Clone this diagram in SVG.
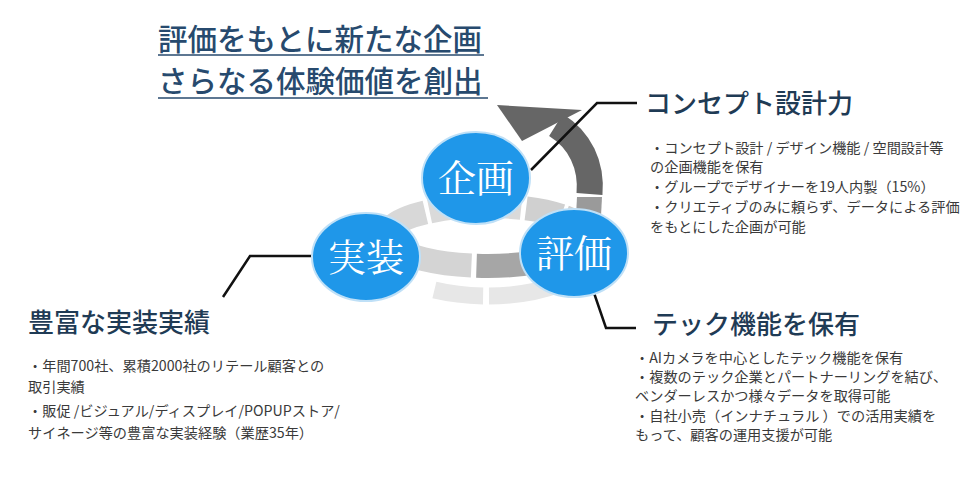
<svg xmlns="http://www.w3.org/2000/svg" width="967" height="501" viewBox="0 0 967 501">
<style>
.title{font-family:"Noto Sans CJK JP","Noto Sans CJK SC",sans-serif;font-size:29.5px;font-weight:500;fill:#274a6e}
.uline{stroke:#274a6e;stroke-width:1.6;fill:none}
.head{font-family:"Noto Sans CJK JP","Noto Sans CJK SC",sans-serif;font-size:26px;font-weight:500;fill:#1f3b55}
.body{font-family:"Noto Sans CJK JP","Noto Sans CJK SC",sans-serif;font-size:14.2px;fill:#3a3a3a}
.node{fill:#1f97e9;stroke:#bfe0f7;stroke-width:2}
.nlabel{font-family:"Noto Serif CJK JP","Noto Serif CJK SC","Noto Sans CJK JP",serif;font-size:38px;fill:#ffffff;text-anchor:middle}
.seg{fill:none;stroke-width:24;stroke-linecap:butt}
.low{fill:none;stroke:#e7e7e7;stroke-width:17;stroke-linecap:butt}
.conn{fill:none;stroke:#111111;stroke-width:2.5;stroke-linejoin:miter}
</style>
<rect width="967" height="501" fill="#ffffff"/>

<g id="title">
<text class="title" x="158" y="50">評価をもとに新たな企画</text>
<line class="uline" x1="158" y1="55" x2="484" y2="55"/>
<text class="title" x="158" y="92">さらなる体験価値を創出</text>
<line class="uline" x1="158" y1="98" x2="488" y2="98"/>
</g>

<g id="cycle">
<path class="low" d="M434.4,290.1 A112,50 0 0 0 483.1,296"/>
<path class="low" d="M489,296 A112,50 0 0 0 559,284.3"/>
<path class="seg" stroke="#a6a6a6" d="M581,246.3 A100,30 0 0 1 476.5,265.8"/>
<path class="seg" stroke="#d4d4d4" d="M471.4,265.6 A100,30 0 0 1 393,246.3"/>
<path class="seg" stroke="#d8d8d8" d="M391.4,244.8 A100,30 0 0 1 425.4,212.4"/>
<path class="seg" stroke="#dadada" d="M429.6,211.4 A100,30 0 0 1 521.2,207.8"/>
<path class="seg" stroke="#d0d0d0" d="M526.1,208.4 A100,30 0 0 1 561.3,215.9"/>
<path class="seg" stroke="#cfcfcf" d="M564.7,217.1 A100,30 0 0 1 582.6,244.8"/>
<path d="M576,216 L601,216 L602,197 L577,197 Z" fill="#9a9a9a"/>
<path d="M589.5,194 C592,165 580,140 556,125" fill="none" stroke="#666666" stroke-width="26"/>
<polygon points="497,105 582,110 522,141" fill="#666666"/>
</g>

<g id="connectors">
<polyline class="conn" points="531,170 597,103 637,103"/>
<polyline class="conn" points="223,297 250,256 313,256"/>
<polyline class="conn" points="593,290 606,328 636,328"/>
</g>

<g id="node-kikaku">
<ellipse class="node" cx="476" cy="178" rx="54" ry="46"/>
<text class="nlabel" x="476" y="192">企画</text>
</g>
<g id="node-jisso">
<ellipse class="node" cx="366" cy="257" rx="54" ry="44"/>
<text class="nlabel" x="366" y="271">実装</text>
</g>
<g id="node-hyoka">
<ellipse class="node" cx="574" cy="253" rx="54" ry="44"/>
<text class="nlabel" x="574" y="267">評価</text>
</g>

<g id="concept">
<text class="head" x="645" y="113">コンセプト設計力</text>
<text class="body" x="650" y="153">・コンセプト設計 / デザイン機能 / 空間設計等</text>
<text class="body" x="650" y="172">の企画機能を保有</text>
<text class="body" x="650" y="192">・グループでデザイナーを19人内製（15%）</text>
<text class="body" x="650" y="212">・クリエティブのみに頼らず、データによる評価</text>
<text class="body" x="650" y="232">をもとにした企画が可能</text>
</g>

<g id="tech">
<text class="head" x="652" y="334">テック機能を保有</text>
<text class="body" x="635" y="363">・AIカメラを中心としたテック機能を保有</text>
<text class="body" x="635" y="382">・複数のテック企業とパートナーリングを結び、</text>
<text class="body" x="635" y="401">ベンダーレスかつ様々データを取得可能</text>
<text class="body" x="635" y="421">・自社小売（インナチュラル ）での活用実績を</text>
<text class="body" x="635" y="440">もって、顧客の運用支援が可能</text>
</g>

<g id="impl">
<text class="head" x="28" y="332">豊富な実装実績</text>
<text class="body" x="28" y="371">・年間700社、累積2000社のリテール顧客との</text>
<text class="body" x="28" y="392">取引実績</text>
<text class="body" x="28" y="416">・販促 /ビジュアル/ディスプレイ/POPUPストア/</text>
<text class="body" x="28" y="438">サイネージ等の豊富な実装経験（業歴35年）</text>
</g>
</svg>
